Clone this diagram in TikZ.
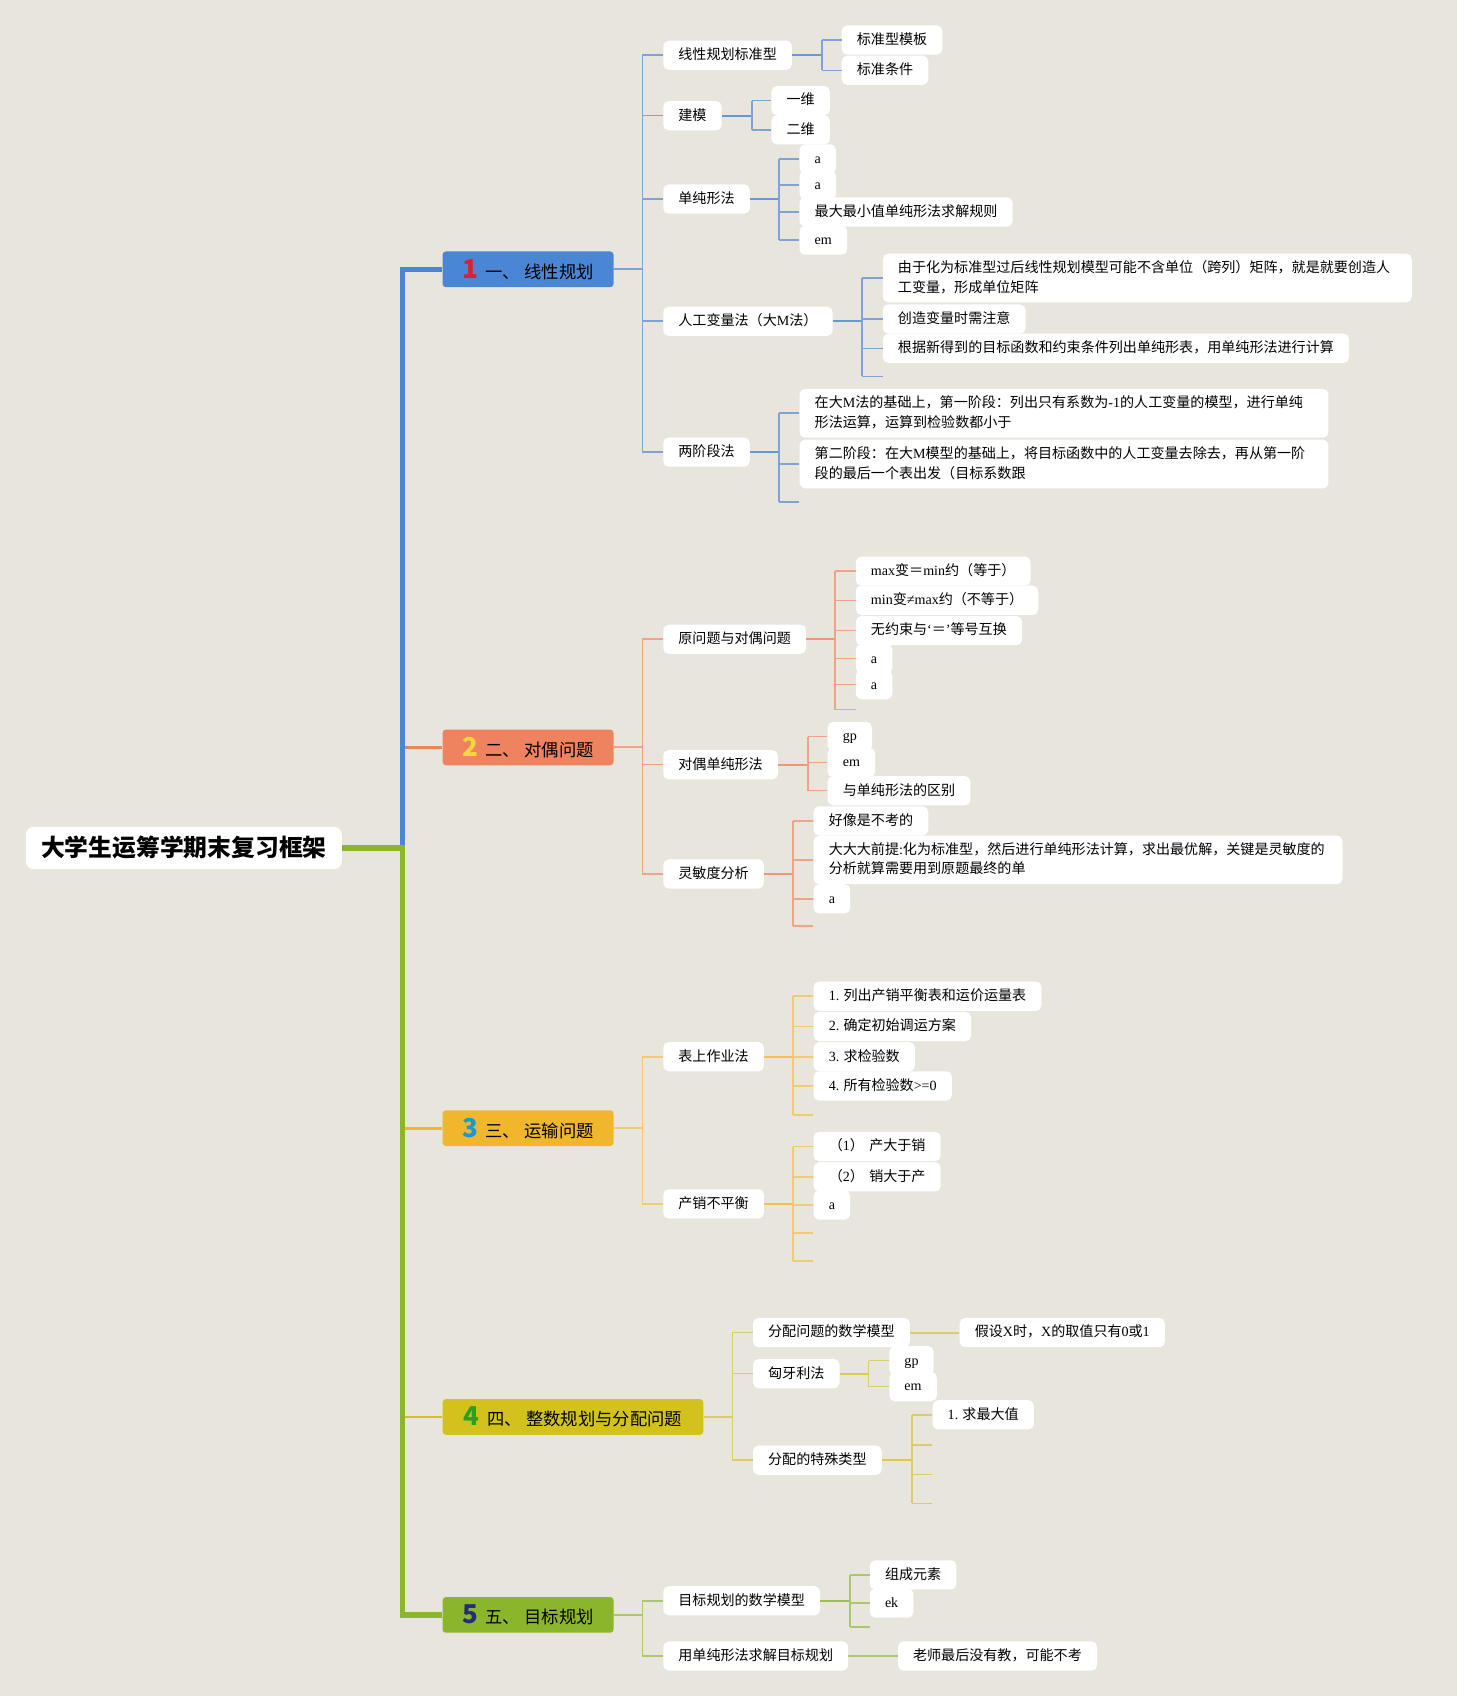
\documentclass[tikz,border=0pt]{standalone}
\usepackage{fontspec}
\setmainfont{Noto Sans CJK SC}
\newfontfamily\latfont{Liberation Serif}
\newcommand\lat[1]{{\latfont #1}}
\newcommand\hnum[2]{\textcolor{#1}{\fontsize{24}{24}\selectfont\bfseries #2}\hspace{7pt}}

\definecolor{bgc}{RGB}{232,229,221}
\definecolor{hdA}{RGB}{74,134,212}
\definecolor{lnA}{RGB}{128,162,214}
\definecolor{hdB}{RGB}{240,131,95}
\definecolor{lnB}{RGB}{238,165,135}
\definecolor{hdC}{RGB}{240,183,45}
\definecolor{lnC}{RGB}{240,203,115}
\definecolor{hdD}{RGB}{212,194,28}
\definecolor{lnD}{RGB}{218,205,105}
\definecolor{hdE}{RGB}{139,181,42}
\definecolor{lnE}{RGB}{172,200,110}
\definecolor{nA}{RGB}{222,30,50}
\definecolor{nB}{RGB}{246,216,60}
\definecolor{nC}{RGB}{30,150,215}
\definecolor{nD}{RGB}{40,160,40}
\definecolor{nE}{RGB}{35,45,120}

\tikzset{
  root/.style={fill=white, rounded corners=7pt, minimum width=292pt, minimum height=39pt,
    font=\fontsize{22}{24}\selectfont\bfseries},
  head/.style={fill=#1, rounded corners=3pt, anchor=west, minimum width=158pt,
    minimum height=33pt, font=\fontsize{16}{18}\selectfont},
  item/.style={fill=white, rounded corners=5pt, anchor=west, inner xsep=14pt, inner ysep=0pt,
    minimum height=27pt, text height=11pt, text depth=3pt, align=left,
    font=\fontsize{13}{18}\selectfont},
  long/.style={item, text width=461pt, text depth=21pt, minimum height=45pt},
  stub/.style={inner sep=0pt, minimum size=0pt, anchor=west},
  mainline/.style={line width=5pt, #1},
  subline/.style={line width=2.5pt, #1},
  twig/.style={line width=1.4pt, #1},
  stemline/.style={line width=2.2pt, #1},
}

\begin{document}
\begin{tikzpicture}[x=1pt,y=-1pt]
\fill[bgc] (0,0) rectangle (1347,1568);
\useasboundingbox (0,0) rectangle (1347,1568);

% root and sections
\node[root] (root) at (170,784) {大学生运筹学期末复习框架};
\coordinate (hub) at (372,784);
\node[head=hdA] (h1) at (409,249) {\hnum{nA}{1}一、\hspace{4pt}线性规划};
\node[head=hdB] (h2) at (409,691) {\hnum{nB}{2}二、\hspace{4pt}对偶问题};
\node[head=hdC] (h3) at (409,1043) {\hnum{nC}{3}三、\hspace{4pt}运输问题};
\node[head=hdD, minimum width=241pt] (h4) at (409,1310) {\hnum{nD}{4}四、\hspace{4pt}整数规划与分配问题};
\node[head=hdE] (h5) at (409,1493) {\hnum{nE}{5}五、\hspace{4pt}目标规划};

\draw[subline=hdB] (hub) |- (h2.west);
\draw[subline=hdC] (hub) |- (h3.west);
\draw[subline=hdD] (hub) |- (h4.west);
\draw[mainline=hdA] (hub) |- (h1.west);
\draw[mainline=hdE] (root.east) -- (hub) |- (h5.west);

% ---- 1 线性规划
\node[item] (lpstd) at (613,51) {线性规划标准型};
\node[item] (jm) at (613,107) {建模};
\node[item] (dcx) at (613,184) {单纯形法};
\node[item] (rgbl) at (613,297) {人工变量法（大\lat{M}法）};
\node[item] (ljd) at (613,418) {两阶段法};
\draw[twig=lnA, line width=2pt] (h1.east) -- ([xshift=-19pt]lpstd.west |- h1.east);
\draw[twig=lnA] ([xshift=-19pt]lpstd.west) -- ([xshift=-19pt]ljd.west);
\foreach \k in {lpstd,jm,dcx,rgbl,ljd} \draw[twig=lnA] (\k.west) -- ++(-19,0);

\node[item] (mb) at (778,37) {标准型模板};
\node[item] (tj) at (778,65) {标准条件};
\node[item] (yw) at (713,93) {一维};
\node[item] (ew) at (713,120) {二维};
\node[item] (dA) at (739,147) {\lat{a}};
\node[item] (dB) at (739,171) {\lat{a}};
\node[item] (dC) at (739,196) {最大最小值单纯形法求解规则};
\node[item] (dD) at (739,222) {\lat{em}};
\node[long] (rA) at (816,257) {由于化为标准型过后线性规划模型可能不含单位（跨列）矩阵，就是就要创造人\\工变量，形成单位矩阵};
\node[item] (rB) at (816,295) {创造变量时需注意};
\node[item] (rC) at (816,322) {根据新得到的目标函数和约束条件列出单纯形表，用单纯形法进行计算};
\node[stub] (rD) at (816,348) {};
\node[long] (tA) at (739,382) {在大\lat{M}法的基础上，第一阶段：列出只有系数为\lat{-1}的人工变量的模型，进行单纯\\形法运算，运算到检验数都小于};
\node[long] (tB) at (739,429) {第二阶段：在大\lat{M}模型的基础上，将目标函数中的人工变量去除去，再从第一阶\\段的最后一个表出发（目标系数跟};
\node[stub] (tC) at (739,464) {};

\draw[stemline=hdA!85] (lpstd.east) -- ([xshift=-18pt]mb.west |- lpstd.east);
\draw[twig=lnA] ([xshift=-18pt]mb.west) -- ([xshift=-18pt]tj.west);
\foreach \k in {mb,tj} \draw[twig=lnA] (\k.west) -- ++(-18,0);
\draw[stemline=hdA!85] (jm.east) -- ([xshift=-18pt]yw.west |- jm.east);
\draw[twig=lnA] ([xshift=-18pt]yw.west) -- ([xshift=-18pt]ew.west);
\foreach \k in {yw,ew} \draw[twig=lnA] (\k.west) -- ++(-18,0);
\draw[stemline=hdA!85] (dcx.east) -- ([xshift=-19pt]dA.west |- dcx.east);
\draw[twig=lnA] ([xshift=-19pt]dA.west) -- ([xshift=-19pt]dD.west);
\foreach \k in {dA,dB,dC,dD} \draw[twig=lnA] (\k.west) -- ++(-19,0);
\draw[stemline=hdA!85] (rgbl.east) -- ([xshift=-19pt]rA.west |- rgbl.east);
\draw[twig=lnA] ([xshift=-19pt]rA.west) -- ([xshift=-19pt]rD.west);
\foreach \k in {rA,rB,rC,rD} \draw[twig=lnA] (\k.west) -- ++(-19,0);
\draw[stemline=hdA!85] (ljd.east) -- ([xshift=-19pt]tA.west |- ljd.east);
\draw[twig=lnA] ([xshift=-19pt]tA.west) -- ([xshift=-19pt]tC.west);
\foreach \k in {tA,tB,tC} \draw[twig=lnA] (\k.west) -- ++(-19,0);

% ---- 2 对偶问题
\node[item] (ywt) at (613,591) {原问题与对偶问题};
\node[item] (ddc) at (613,707) {对偶单纯形法};
\node[item] (lmd) at (613,808) {灵敏度分析};
\draw[twig=lnB, line width=2pt] (h2.east) -- ([xshift=-19pt]ywt.west |- h2.east);
\draw[twig=lnB] ([xshift=-19pt]ywt.west) -- ([xshift=-19pt]lmd.west);
\foreach \k in {ywt,ddc,lmd} \draw[twig=lnB] (\k.west) -- ++(-19,0);

\node[item] (pA) at (791,528) {\lat{max}变＝\lat{min}约（等于）};
\node[item] (pB) at (791,555) {\lat{min}变\lat{≠}\lat{max}约（不等于）};
\node[item] (pC) at (791,583) {无约束与\lat{‘}＝\lat{’}等号互换};
\node[item] (pD) at (791,609) {\lat{a}};
\node[item] (pE) at (791,633) {\lat{a}};
\node[stub] (pF) at (791,656) {};
\node[item] (qA) at (765,681) {\lat{gp}};
\node[item] (qB) at (765,705) {\lat{em}};
\node[item] (qC) at (765,731) {与单纯形法的区别};
\node[item] (sA) at (752,759) {好像是不考的};
\node[long] (sB) at (752,795) {大大大前提\lat{:}化为标准型，然后进行单纯形法计算，求出最优解，关键是灵敏度的\\分析就算需要用到原题最终的单};
\node[item] (sC) at (752,831) {\lat{a}};
\node[stub] (sD) at (752,856) {};

\draw[stemline=hdB!85] (ywt.east) -- ([xshift=-19pt]pA.west |- ywt.east);
\draw[twig=lnB] ([xshift=-19pt]pA.west) -- ([xshift=-19pt]pF.west);
\foreach \k in {pA,pB,pC,pD,pE,pF} \draw[twig=lnB] (\k.west) -- ++(-19,0);
\draw[stemline=hdB!85] (ddc.east) -- ([xshift=-18pt]qA.west |- ddc.east);
\draw[twig=lnB] ([xshift=-18pt]qA.west) -- ([xshift=-18pt]qC.west);
\foreach \k in {qA,qB,qC} \draw[twig=lnB] (\k.west) -- ++(-18,0);
\draw[stemline=hdB!85] (lmd.east) -- ([xshift=-19pt]sA.west |- lmd.east);
\draw[twig=lnB] ([xshift=-19pt]sA.west) -- ([xshift=-19pt]sD.west);
\foreach \k in {sA,sB,sC,sD} \draw[twig=lnB] (\k.west) -- ++(-19,0);

% ---- 3 运输问题
\node[item] (bsz) at (613,977) {表上作业法};
\node[item] (cxb) at (613,1113) {产销不平衡};
\draw[twig=lnC, line width=2pt] (h3.east) -- ([xshift=-19pt]bsz.west |- h3.east);
\draw[twig=lnC] ([xshift=-19pt]bsz.west) -- ([xshift=-19pt]cxb.west);
\foreach \k in {bsz,cxb} \draw[twig=lnC] (\k.west) -- ++(-19,0);

\node[item] (bA) at (752,921) {\lat{1.} 列出产销平衡表和运价运量表};
\node[item] (bB) at (752,949) {\lat{2.} 确定初始调运方案};
\node[item] (bC) at (752,977) {\lat{3.} 求检验数};
\node[item] (bD) at (752,1004) {\lat{4.} 所有检验数\lat{>=0}};
\node[stub] (bE) at (752,1031) {};
\node[item] (cA) at (752,1060) {（\lat{1}）\hspace{5pt}产大于销};
\node[item] (cB) at (752,1088) {（\lat{2}）\hspace{5pt}销大于产};
\node[item] (cC) at (752,1114) {\lat{a}};
\node[stub] (cD) at (752,1140) {};
\node[stub] (cE) at (752,1166) {};

\draw[stemline=hdC!85] (bsz.east) -- ([xshift=-19pt]bA.west |- bsz.east);
\draw[twig=lnC] ([xshift=-19pt]bA.west) -- ([xshift=-19pt]bE.west);
\foreach \k in {bA,bB,bC,bD,bE} \draw[twig=lnC] (\k.west) -- ++(-19,0);
\draw[stemline=hdC!85] (cxb.east) -- ([xshift=-19pt]cA.west |- cxb.east);
\draw[twig=lnC] ([xshift=-19pt]cA.west) -- ([xshift=-19pt]cE.west);
\foreach \k in {cA,cB,cC,cD,cE} \draw[twig=lnC] (\k.west) -- ++(-19,0);

% ---- 4 整数规划与分配问题
\node[item] (fpm) at (696,1232) {分配问题的数学模型};
\node[item] (xyl) at (696,1270) {匈牙利法};
\node[item] (tslx) at (696,1350) {分配的特殊类型};
\draw[twig=lnD, line width=2pt] (h4.east) -- ([xshift=-19pt]fpm.west |- h4.east);
\draw[twig=lnD] ([xshift=-19pt]fpm.west) -- ([xshift=-19pt]tslx.west);
\foreach \k in {fpm,xyl,tslx} \draw[twig=lnD] (\k.west) -- ++(-19,0);

\node[item] (fpx) at (887,1232) {假设\lat{X}时，\lat{X}的取值只有\lat{0}或\lat{1}};
\node[item] (xA) at (822,1258) {\lat{gp}};
\node[item] (xB) at (822,1282) {\lat{em}};
\node[item] (zA) at (862,1308) {\lat{1.} 求最大值};
\node[stub] (zB) at (862,1336) {};
\node[stub] (zC) at (862,1363) {};
\node[stub] (zD) at (862,1390) {};

\draw[twig=lnD, line width=2pt] (fpm.east) -- (fpx.west);
\draw[stemline=hdD!85] (xyl.east) -- ([xshift=-19pt]xA.west |- xyl.east);
\draw[twig=lnD] ([xshift=-19pt]xA.west) -- ([xshift=-19pt]xB.west);
\foreach \k in {xA,xB} \draw[twig=lnD] (\k.west) -- ++(-19,0);
\draw[stemline=hdD!85] (tslx.east) -- ([xshift=-19pt]zA.west |- tslx.east);
\draw[twig=lnD] ([xshift=-19pt]zA.west) -- ([xshift=-19pt]zD.west);
\foreach \k in {zA,zB,zC,zD} \draw[twig=lnD] (\k.west) -- ++(-19,0);

% ---- 5 目标规划
\node[item] (mbm) at (613,1480) {目标规划的数学模型};
\node[item] (yqj) at (613,1531) {用单纯形法求解目标规划};
\draw[twig=lnE, line width=2pt] (h5.east) -- ([xshift=-19pt]mbm.west |- h5.east);
\draw[twig=lnE] ([xshift=-19pt]mbm.west) -- ([xshift=-19pt]yqj.west);
\foreach \k in {mbm,yqj} \draw[twig=lnE] (\k.west) -- ++(-19,0);

\node[item] (eA) at (804,1456) {组成元素};
\node[item] (eB) at (804,1482) {\lat{ek}};
\node[stub] (eC) at (804,1504) {};
\node[item] (lsk) at (830,1531) {老师最后没有教，可能不考};

\draw[stemline=hdE!85] (mbm.east) -- ([xshift=-18pt]eA.west |- mbm.east);
\draw[twig=lnE] ([xshift=-18pt]eA.west) -- ([xshift=-18pt]eC.west);
\foreach \k in {eA,eB,eC} \draw[twig=lnE] (\k.west) -- ++(-18,0);
\draw[twig=lnE, line width=2pt] (yqj.east) -- (lsk.west);
\end{tikzpicture}
\end{document}
